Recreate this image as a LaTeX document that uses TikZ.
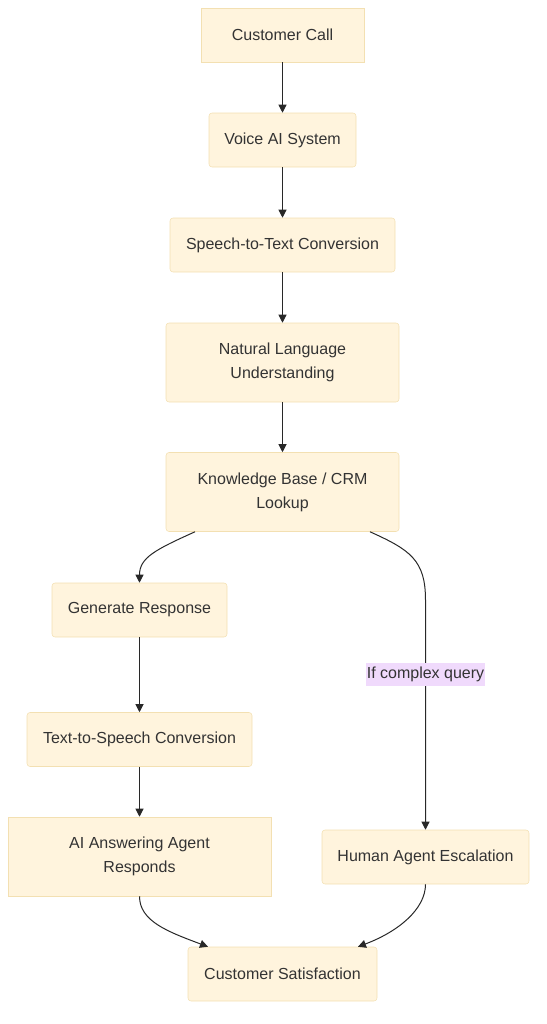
\documentclass[tikz,border=0pt]{standalone}
\usepackage{fontspec}
\setmainfont{Liberation Sans}
\usetikzlibrary{arrows.meta}

\definecolor{boxfill}{RGB}{255,244,221}
\definecolor{boxline}{RGB}{243,224,178}
\definecolor{edgeline}{RGB}{40,40,40}
\definecolor{txt}{RGB}{51,51,51}
\definecolor{labelfill}{RGB}{240,218,252}

\begin{document}
\begin{tikzpicture}[x=0.75pt, y=-0.75pt,
    box/.style={draw=boxline, fill=boxfill, text=txt, font=\fontsize{12}{18}\selectfont,
        rounded corners=2.25pt, align=center, inner sep=0pt, minimum height=40.5pt},
    sqbox/.style={box, sharp corners},
    flow/.style={draw=edgeline, line width=0.75pt, -{Triangle[length=6pt,width=6pt]}},
    elabel/.style={fill=labelfill, text=txt, font=\fontsize{12}{14}\selectfont, inner xsep=0.5pt, inner ysep=3pt}]
    \useasboundingbox (0,0) rectangle (546,1024);

    % Main chain
    \node [sqbox, minimum width=122.25pt] (call) at (282.5,35) {Customer Call};
    \node [box, minimum width=110.25pt] (voice) at (282.5,140) {Voice AI System};
    \node [box, minimum width=168.75pt] (stt) at (282.5,245) {Speech-to-Text Conversion};
    \node [box, minimum width=174.75pt, minimum height=59.25pt] (nlu) at (282.5,362.5) {Natural Language\\Understanding};
    \node [box, minimum width=174.75pt, minimum height=59.25pt] (kb) at (282.5,492) {Knowledge Base / CRM\\Lookup};

    % AI branch
    \node [box, minimum width=131.25pt] (gen) at (139.5,610) {Generate Response};
    \node [box, minimum width=168.75pt] (tts) at (139.5,739.5) {Text-to-Speech Conversion};
    \node [sqbox, minimum width=197.25pt, minimum height=59.25pt] (ai) at (139.5,856.5) {AI Answering Agent\\Responds};

    % Human branch
    \node [box, minimum width=155.25pt] (human) at (425.5,857) {Human Agent Escalation};

    % End
    \node [box, minimum width=141.75pt] (sat) at (282.5,974) {Customer Satisfaction};

    % Connectors
    \draw [flow] (call) -- (voice);
    \draw [flow] (voice) -- (stt);
    \draw [flow] (stt) -- (nlu);
    \draw [flow] (nlu) -- (kb);
    \draw [flow] ([xshift=-65.6pt]kb.south) .. controls +(-40,18) and +(0,-25) .. (gen.north);
    \coordinate (bend) at (425.5,600);
    \draw [flow] ([xshift=65.6pt]kb.south) .. controls +(40,18) and +(0,-40) .. (bend)
        -- node [elabel, pos=0.324] {If complex query} (human.north);
    \draw [flow] (gen) -- (tts);
    \draw [flow] (tts) -- (ai);
    \draw [flow] (ai.south) .. controls +(0,25) and +(-40,-15) .. ([xshift=-55.9pt]sat.north);
    \draw [flow] (human.south) .. controls +(0,25) and +(40,-15) .. ([xshift=56.6pt]sat.north);
\end{tikzpicture}
\end{document}
